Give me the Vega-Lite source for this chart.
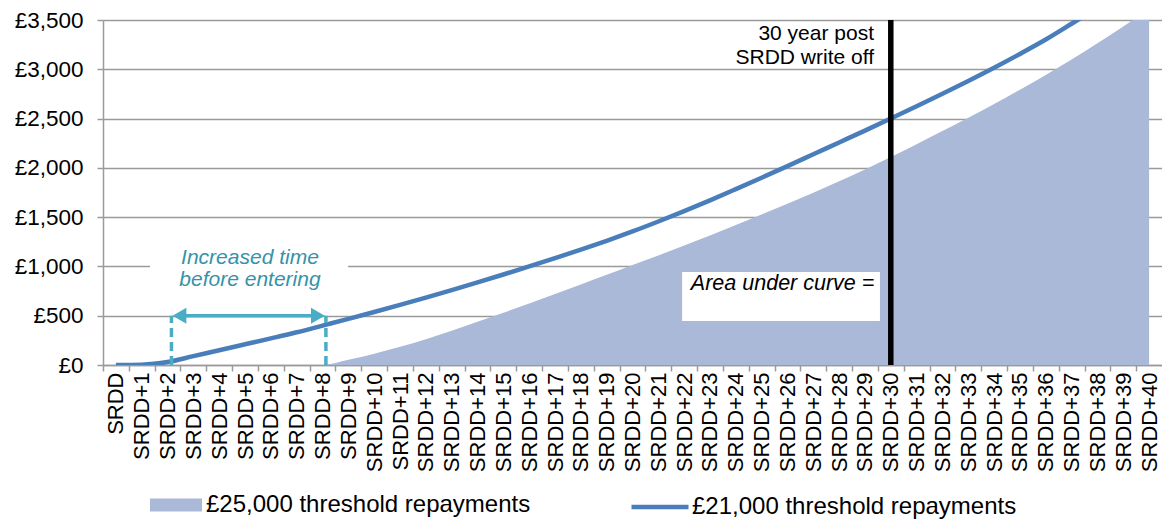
{
  "$schema": "https://vega.github.io/schema/vega-lite/v6.json",
  "width": 1059,
  "height": 345,
  "autosize": {"type": "none"},
  "padding": {"left": 103, "top": 20, "right": 0, "bottom": 156},
  "background": "white",
  "config": {
    "view": {"stroke": null},
    "font": "Liberation Sans",
    "text": {"font": "Liberation Sans"}
  },
  "resolve": {"axis": {"x": "independent", "y": "independent"}},
  "datasets": {
    "series": [
      {"year": 0, "v25": 0, "v21": 0},
      {"year": 1, "v25": 0, "v21": 3},
      {"year": 2, "v25": 0, "v21": 30},
      {"year": 3, "v25": 0, "v21": 90},
      {"year": 4, "v25": 0, "v21": 150},
      {"year": 5, "v25": 0, "v21": 210},
      {"year": 6, "v25": 0, "v21": 270},
      {"year": 7, "v25": 0, "v21": 332},
      {"year": 8, "v25": 0, "v21": 400},
      {"year": 9, "v25": 52, "v21": 468},
      {"year": 10, "v25": 114, "v21": 538},
      {"year": 11, "v25": 184, "v21": 610},
      {"year": 12, "v25": 262, "v21": 684},
      {"year": 13, "v25": 348, "v21": 760},
      {"year": 14, "v25": 438, "v21": 838},
      {"year": 15, "v25": 530, "v21": 918},
      {"year": 16, "v25": 624, "v21": 1000},
      {"year": 17, "v25": 720, "v21": 1084},
      {"year": 18, "v25": 817, "v21": 1170},
      {"year": 19, "v25": 915, "v21": 1260},
      {"year": 20, "v25": 1014, "v21": 1355},
      {"year": 21, "v25": 1112, "v21": 1456},
      {"year": 22, "v25": 1212, "v21": 1561},
      {"year": 23, "v25": 1315, "v21": 1670},
      {"year": 24, "v25": 1420, "v21": 1784},
      {"year": 25, "v25": 1527, "v21": 1900},
      {"year": 26, "v25": 1636, "v21": 2018},
      {"year": 27, "v25": 1748, "v21": 2138},
      {"year": 28, "v25": 1864, "v21": 2258},
      {"year": 29, "v25": 1984, "v21": 2378},
      {"year": 30, "v25": 2110, "v21": 2500},
      {"year": 31, "v25": 2240, "v21": 2625},
      {"year": 32, "v25": 2373, "v21": 2752},
      {"year": 33, "v25": 2508, "v21": 2882},
      {"year": 34, "v25": 2648, "v21": 3016},
      {"year": 35, "v25": 2793, "v21": 3156},
      {"year": 36, "v25": 2943, "v21": 3302},
      {"year": 37, "v25": 3100, "v21": 3462},
      {"year": 38, "v25": 3265, "v21": 3625},
      {"year": 39, "v25": 3435, "v21": 3790},
      {"year": 40, "v25": 3610, "v21": 3960}
    ],
    "boxes": [
      {"x0": 1.32, "x1": 8.99, "y0": 690, "y1": 1268},
      {"x0": 21.92, "x1": 29.58, "y0": 446, "y1": 943}
    ],
    "dashes": [
      {"x": 2.15, "y0": 0, "y1": 500},
      {"x": 8.13, "y0": 0, "y1": 500}
    ],
    "shaft": [{"x0": 2.5, "x1": 7.8, "y": 500}],
    "heads": [
      {"x": 2.46, "y": 500, "dir": "l"},
      {"x": 7.82, "y": 500, "dir": "r"}
    ],
    "writeoff": [{"x": 30, "y0": 0, "y1": 3500}],
    "tealText": [
      {"x": 5.19, "y": 1090, "label": "Increased time"},
      {"x": 5.19, "y": 862, "label": "before entering"}
    ],
    "areaText": [{"x": 22.26, "y": 822, "label": "Area under curve ="}],
    "writeText": [
      {"x": 29.35, "y": 3358, "label": "30 year post"},
      {"x": 29.35, "y": 3114, "label": "SRDD write off"}
    ]
  },
  "layer": [
    {
      "data": {"name": "series"},
      "mark": {"type": "area", "clip": true, "opacity": 1, "interpolate": "monotone"},
      "encoding": {
        "x": {
          "field": "year", "type": "quantitative",
          "scale": {"domain": [-0.5, 40.5], "nice": false, "zero": false},
          "axis": {
            "title": null,
            "values": [0,1,2,3,4,5,6,7,8,9,10,11,12,13,14,15,16,17,18,19,20,21,22,23,24,25,26,27,28,29,30,31,32,33,34,35,36,37,38,39,40],
            "labelExpr": "datum.value == 0 ? 'SRDD' : 'SRDD+' + datum.value",
            "labelAngle": -90,
            "labelFontSize": 22,
            "labelColor": "#000000",
            "labelFont": "Liberation Sans",
            "labelPadding": 1,
            "labelOverlap": false,
            "labelFlush": false,
            "labelBound": false,
            "tickSize": 6,
            "tickColor": "#9a9a9a",
            "tickWidth": 1.5,
            "tickOffset": -12.915,
            "labelOffset": 12.915,
            "domainColor": "#9a9a9a",
            "domainWidth": 1.5,
            "grid": false
          }
        },
        "y": {
          "field": "v25", "type": "quantitative", "stack": null,
          "scale": {"domain": [0, 3500], "nice": false},
          "axis": {
            "title": null,
            "values": [0, 500, 1000, 1500, 2000, 2500, 3000, 3500],
            "labelExpr": "'£' + format(datum.value, ',')",
            "labelFontSize": 22.5,
            "labelColor": "#000000",
            "labelFont": "Liberation Sans",
            "labelPadding": 14,
            "tickSize": 6,
            "tickColor": "#9a9a9a",
            "tickWidth": 1.5,
            "domainColor": "#9a9a9a",
            "domainWidth": 1.5,
            "grid": true,
            "gridColor": "#9a9a9a",
            "gridWidth": 1.5
          }
        },
        "fill": {
          "datum": "£25,000 threshold repayments", "type": "nominal",
          "scale": {"range": ["#aab9d7"]},
          "legend": {
            "title": null, "orient": "none", "legendX": 47, "legendY": 459,
            "padding": 0, "labelFontSize": 24, "labelFont": "Liberation Sans", "labelColor": "#000000",
            "labelLimit": 600, "labelOffset": 4,
            "symbolType": "M-1,-0.25H1V0.25H-1Z", "symbolSize": 2704,
            "symbolOpacity": 1, "symbolStrokeWidth": 0
          }
        }
      }
    },
    {
      "data": {"name": "boxes"},
      "mark": {"type": "rect", "color": "white"},
      "encoding": {
        "x": {"field": "x0", "type": "quantitative", "axis": null},
        "x2": {"field": "x1"},
        "y": {"field": "y0", "type": "quantitative", "axis": null},
        "y2": {"field": "y1"}
      }
    },
    {
      "data": {"name": "series"},
      "mark": {"type": "line", "clip": true, "strokeWidth": 4.5, "interpolate": "monotone"},
      "encoding": {
        "x": {"field": "year", "type": "quantitative", "axis": null},
        "y": {"field": "v21", "type": "quantitative", "axis": null},
        "stroke": {
          "datum": "£21,000 threshold repayments", "type": "nominal",
          "scale": {"range": ["#4a7ebb"]},
          "legend": {
            "title": null, "orient": "none", "legendX": 526, "legendY": 456,
            "padding": 0, "labelFontSize": 24, "labelFont": "Liberation Sans", "labelColor": "#000000",
            "labelLimit": 600, "labelOffset": 1,
            "symbolType": "stroke", "symbolSize": 3249, "symbolStrokeWidth": 4.5
          }
        }
      }
    },
    {
      "data": {"name": "dashes"},
      "mark": {"type": "rule", "color": "#4bacc6", "strokeWidth": 3.5, "strokeDash": [9, 5]},
      "encoding": {
        "x": {"field": "x", "type": "quantitative", "axis": null},
        "y": {"field": "y0", "type": "quantitative", "axis": null},
        "y2": {"field": "y1"}
      }
    },
    {
      "data": {"name": "shaft"},
      "mark": {"type": "rule", "color": "#4bacc6", "strokeWidth": 3.5},
      "encoding": {
        "x": {"field": "x0", "type": "quantitative", "axis": null},
        "x2": {"field": "x1"},
        "y": {"field": "y", "type": "quantitative", "axis": null}
      }
    },
    {
      "data": {"name": "heads"},
      "mark": {"type": "point", "filled": true, "color": "#4bacc6", "opacity": 1, "size": 256},
      "encoding": {
        "x": {"field": "x", "type": "quantitative", "axis": null},
        "y": {"field": "y", "type": "quantitative", "axis": null},
        "shape": {
          "field": "dir", "type": "nominal",
          "scale": {"domain": ["l", "r"], "range": ["triangle-left", "triangle-right"]},
          "legend": null
        }
      }
    },
    {
      "data": {"name": "writeoff"},
      "mark": {"type": "rule", "color": "#000000", "strokeWidth": 5.5},
      "encoding": {
        "x": {"field": "x", "type": "quantitative", "axis": null},
        "y": {"field": "y0", "type": "quantitative", "axis": null},
        "y2": {"field": "y1"}
      }
    },
    {
      "data": {"name": "tealText"},
      "mark": {"type": "text", "fontSize": 21, "fontStyle": "italic", "color": "#3592aa", "align": "center", "baseline": "middle"},
      "encoding": {
        "x": {"field": "x", "type": "quantitative", "axis": null},
        "y": {"field": "y", "type": "quantitative", "axis": null},
        "text": {"field": "label"}
      }
    },
    {
      "data": {"name": "areaText"},
      "mark": {"type": "text", "fontSize": 21.5, "fontStyle": "italic", "color": "#000000", "align": "left", "baseline": "middle"},
      "encoding": {
        "x": {"field": "x", "type": "quantitative", "axis": null},
        "y": {"field": "y", "type": "quantitative", "axis": null},
        "text": {"field": "label"}
      }
    },
    {
      "data": {"name": "writeText"},
      "mark": {"type": "text", "fontSize": 21, "color": "#000000", "align": "right", "baseline": "middle"},
      "encoding": {
        "x": {"field": "x", "type": "quantitative", "axis": null},
        "y": {"field": "y", "type": "quantitative", "axis": null},
        "text": {"field": "label"}
      }
    }
  ]
}
